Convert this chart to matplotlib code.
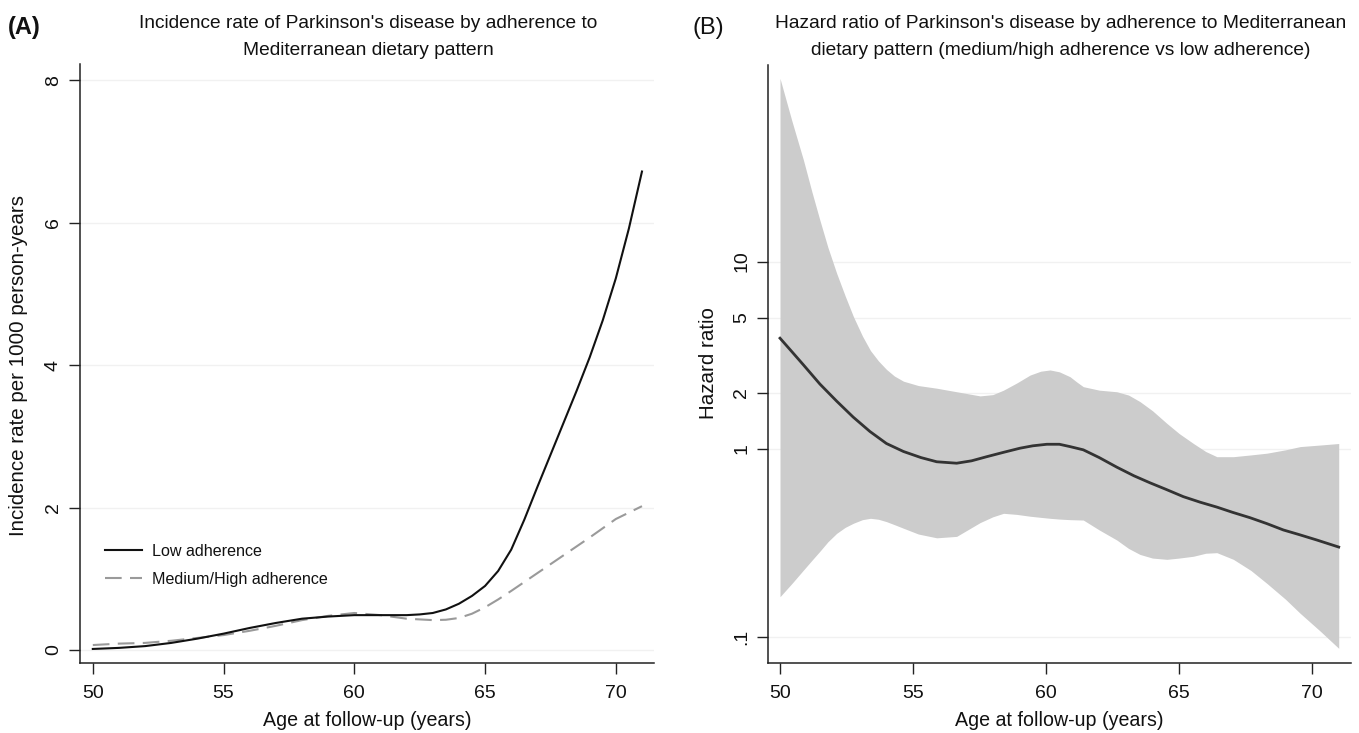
import matplotlib
matplotlib.use("Agg")
import matplotlib.pyplot as plt
from matplotlib.ticker import FixedLocator, NullLocator

plt.rcParams['font.family'] = ['Liberation Sans', 'DejaVu Sans']

# ---------------- Data: panel A (incidence rate) ----------------
age_low = [50, 51, 52, 53, 54, 55, 56, 57, 58, 59, 60, 61, 62, 62.5, 63, 63.5, 64, 64.5,
           65, 65.5, 66, 66.5, 67, 67.5, 68, 68.5, 69, 69.5, 70, 70.5, 71]
rate_low = [0.015, 0.03, 0.055, 0.10, 0.16, 0.23, 0.31, 0.38, 0.44, 0.47, 0.49, 0.49,
            0.49, 0.50, 0.52, 0.57, 0.65, 0.76, 0.90, 1.11, 1.41, 1.83, 2.29, 2.74, 3.19,
            3.64, 4.11, 4.63, 5.22, 5.92, 6.72]

age_med = [50, 51, 52, 53, 54, 55, 56, 57, 58, 59, 60, 61, 62, 63, 63.5, 64, 64.5, 65,
           65.5, 66, 67, 68, 69, 70, 71]
rate_med = [0.07, 0.09, 0.10, 0.13, 0.17, 0.21, 0.27, 0.34, 0.42, 0.48, 0.52, 0.49,
            0.44, 0.42, 0.425, 0.45, 0.51, 0.60, 0.71, 0.83, 1.08, 1.33, 1.58, 1.84, 2.02]

series_labels = ["Low adherence", "Medium/High adherence"]

# ---------------- Data: panel B (hazard ratio) ----------------
age_hr = [50.0, 50.45, 50.88, 51.5, 52.13, 52.75, 53.38, 54.0, 54.64, 55.3, 55.89,
          56.64, 57.2, 57.77, 58.4, 59.02, 59.5, 60.03, 60.5, 60.9, 61.4, 62.0, 62.66,
          63.3, 63.91, 64.5, 65.16, 65.8, 66.42, 67.0, 67.67, 68.3, 68.92, 69.5, 70.18,
          71.0]
hr = [3.9, 3.3, 2.81, 2.22, 1.80, 1.48, 1.24, 1.07, 0.97, 0.90, 0.855, 0.84, 0.865,
      0.91, 0.96, 1.01, 1.04, 1.06, 1.06, 1.03, 0.99, 0.90, 0.80, 0.72, 0.66, 0.61,
      0.557, 0.52, 0.49, 0.46, 0.43, 0.40, 0.37, 0.35, 0.327, 0.30]

age_ci = [50.0, 50.45, 50.88, 51.2, 51.5, 51.8, 52.13, 52.45, 52.76, 53.1, 53.4, 53.7,
          54.0, 54.3, 54.64, 55.2, 55.89, 56.64, 57.52, 58.0, 58.4, 58.9, 59.4, 59.8,
          60.15, 60.5, 60.9, 61.15, 61.4, 62.0, 62.66, 63.1, 63.53, 64.0, 64.54, 65.0,
          65.54, 66.0, 66.42, 67.04, 67.7, 68.3, 69.0, 69.55, 70.3, 71.0]
ci_upper = [94.8, 56.0, 34.8, 23.5, 16.6, 11.9, 8.65, 6.55, 5.08, 4.00, 3.35, 2.95,
            2.66, 2.45, 2.30, 2.18, 2.11, 2.02, 1.92, 1.95, 2.06, 2.25, 2.48, 2.60,
            2.64, 2.58, 2.43, 2.28, 2.15, 2.06, 2.02, 1.94, 1.79, 1.60, 1.37, 1.21,
            1.07, 0.97, 0.91, 0.91, 0.93, 0.95, 0.99, 1.03, 1.05, 1.07]
ci_lower = [0.163, 0.192, 0.226, 0.255, 0.285, 0.32, 0.355, 0.382, 0.402, 0.42, 0.427,
            0.422, 0.41, 0.395, 0.378, 0.352, 0.336, 0.342, 0.405, 0.435, 0.454, 0.448,
            0.438, 0.432, 0.427, 0.423, 0.42, 0.419, 0.418, 0.37, 0.327, 0.295, 0.274,
            0.262, 0.258, 0.262, 0.268, 0.278, 0.28, 0.258, 0.225, 0.192, 0.158, 0.133,
            0.107, 0.0865]

xticks = [50, 55, 60, 65, 70]
yticks_a = [0, 2, 4, 6, 8]
yticks_b = [0.1, 1, 2, 5, 10]
yticklabels_b = [".1", "1", "2", "5", "10"]

# ---------------- Figure ----------------
W, H = 1359, 733
fig = plt.figure(figsize=(W / 100, H / 100), dpi=100)

def fx(px):
    return px / W

def fy(py):
    return 1 - py / H

axA = fig.add_axes([fx(80), fy(662.7), fx(654) - fx(80), fy(64) - fy(662.7)])
axB = fig.add_axes([fx(768.3), fy(662.7), fx(1350.7) - fx(768.3), fy(65) - fy(662.7)])

FS_TICK = 14.0
FS_TITLE = 13.8
FS_YLAB = 14.8
FS_XLAB = 14.1
spine_col = "#222222"
txt_col = "#111111"

for ax in (axA, axB):
    for s in ("top", "right"):
        ax.spines[s].set_visible(False)
    for s in ("left", "bottom"):
        ax.spines[s].set_color(spine_col)
        ax.spines[s].set_linewidth(1.1)
    ax.tick_params(axis="both", direction="out", length=8, width=1.0,
                   color=spine_col, labelsize=FS_TICK, labelcolor=txt_col)
    ax.tick_params(axis="x", pad=8)
    ax.tick_params(axis="y", pad=5)
    ax.set_axisbelow(True)
    ax.grid(axis="y", color="#f1f1f1", linewidth=1.0)
    ax.set_xticks(xticks)
    ax.set_xticklabels([str(t) for t in xticks])
    ax.set_facecolor("white")

# Panel A
axA.plot(age_low, rate_low, color="#111111", lw=1.5, label=series_labels[0], zorder=3)
axA.plot(age_med, rate_med, color="#9a9a9a", lw=1.5, ls=(0, (8, 4)),
         label=series_labels[1], zorder=2)
axA.set_xlim(49.51, 71.46)
axA.set_ylim(-0.178, 8.23)
axA.set_yticks(yticks_a)
axA.set_yticklabels([str(t) for t in yticks_a], rotation=90, va="center")
leg = axA.legend(loc="center left", bbox_to_anchor=(0.0436, 0.163), frameon=False,
                 fontsize=11.6, handlelength=2.3, handletextpad=0.6,
                 labelspacing=0.8, borderpad=0, borderaxespad=0)
for t in leg.get_texts():
    t.set_color(txt_col)

# Panel B
axB.fill_between(age_ci, ci_lower, ci_upper, color="#cccccc", lw=0, zorder=1)
axB.plot(age_hr, hr, color="#333333", lw=2.0, zorder=3)
axB.set_yscale("log")
axB.set_xlim(49.56, 71.45)
axB.set_ylim(0.0725, 111.7)
axB.yaxis.set_major_locator(FixedLocator(yticks_b))
axB.yaxis.set_minor_locator(NullLocator())
axB.set_yticklabels(yticklabels_b, rotation=90, va="center")

# Titles
tA1 = "Incidence rate of Parkinson's disease by adherence to"
tA2 = "Mediterranean dietary pattern"
tB1 = "Hazard ratio of Parkinson's disease by adherence to Mediterranean"
tB2 = "dietary pattern (medium/high adherence vs low adherence)"
for txt, cx, by in ((tA1, 368, 28), (tA2, 368, 55), (tB1, 1061, 28), (tB2, 1061, 55)):
    fig.text(fx(cx), fy(by), txt, ha="center", va="baseline", fontsize=FS_TITLE,
             color=txt_col)

fig.text(fx(8), fy(34), "(A)", ha="left", va="baseline", fontsize=17, fontweight="bold",
         color=txt_col)
fig.text(fx(692), fy(34), "(B)", ha="left", va="baseline", fontsize=17, color=txt_col)

# Axis labels
fig.text(fx(19), fy(365), "Incidence rate per 1000 person-years", rotation=90,
         ha="center", va="center", fontsize=FS_YLAB, color=txt_col)
fig.text(fx(708), fy(363), "Hazard ratio", rotation=90,
         ha="center", va="center", fontsize=FS_YLAB, color=txt_col)
fig.text(fx(367), fy(720), "Age at follow-up (years)", ha="center", va="center",
         fontsize=FS_XLAB, color=txt_col)
fig.text(fx(1059), fy(720), "Age at follow-up (years)", ha="center", va="center",
         fontsize=FS_XLAB, color=txt_col)

fig.savefig("out.png", dpi=100, facecolor="white")
